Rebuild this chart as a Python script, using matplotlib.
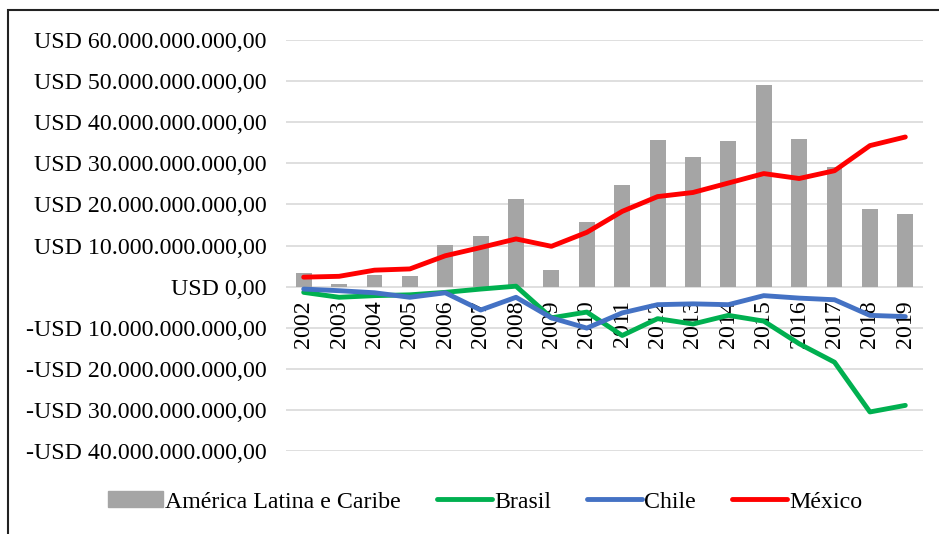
import matplotlib
matplotlib.use("Agg")
import matplotlib.pyplot as plt
from matplotlib.patches import Rectangle, Patch
from matplotlib.lines import Line2D
from matplotlib.ticker import FuncFormatter
import numpy as np

plt.rcParams["font.family"] = ["Liberation Serif", "DejaVu Serif"]

years = [str(y) for y in range(2002, 2020)]

# values in billions of USD
america_latina = [3.3, 0.6, 2.8, 2.7, 10.1, 12.2, 21.3, 4.0, 15.6, 24.6,
                  35.7, 31.6, 35.4, 49.0, 36.0, 29.1, 18.9, 17.7]
brasil = [-1.4, -2.6, -2.2, -2.0, -1.4, -0.6, 0.1, -7.6, -6.2, -11.9,
          -7.8, -9.1, -7.0, -8.4, -13.9, -18.4, -30.5, -28.9]
chile = [-0.6, -1.0, -1.5, -2.6, -1.5, -5.7, -2.6, -7.6, -10.1, -6.4,
         -4.4, -4.2, -4.4, -2.2, -2.8, -3.2, -7.0, -7.3]
mexico = [2.3, 2.5, 4.0, 4.3, 7.5, 9.5, 11.6, 9.8, 13.2, 18.3,
          21.9, 22.9, 25.2, 27.5, 26.3, 28.2, 34.3, 36.4]

FS = 17.2
LW = 3.5

fig = plt.figure(figsize=(9.39, 5.34), dpi=100)
ax = fig.add_axes([286 / 939, 1 - 451 / 534, 637 / 939, 411 / 534])

x = np.arange(len(years))
scale = 1e9
ax.bar(x, np.array(america_latina) * scale, width=0.45, color="#a5a5a5", zorder=2)
ax.plot(x, np.array(brasil) * scale, color="#00b050", lw=LW, zorder=4,
        solid_capstyle="round")
ax.plot(x, np.array(chile) * scale, color="#4472c4", lw=LW, zorder=4,
        solid_capstyle="round")
ax.plot(x, np.array(mexico) * scale, color="#ff0000", lw=LW, zorder=5,
        solid_capstyle="round")

ax.set_xlim(-0.5, len(years) - 0.5)
ax.set_ylim(-40e9, 60e9)
ax.set_yticks(np.arange(-40e9, 60e9 + 1, 10e9))


def usd(v, _):
    b = int(round(v / 1e9))
    if b == 0:
        return "USD 0,00"
    s = f"{abs(b) * 1000000000:,}".replace(",", ".") + ",00"
    return ("-" if b < 0 else "") + "USD " + s


ax.yaxis.set_major_formatter(FuncFormatter(usd))
ax.tick_params(axis="y", length=0, pad=14, labelsize=FS)
ax.set_xticks([])
ax.grid(axis="y", color="#d9d9d9", lw=1.2, zorder=0)
ax.set_axisbelow(True)
for s in ax.spines.values():
    s.set_visible(False)

# year labels hanging below the zero line
for i, yr in enumerate(years):
    ax.annotate(yr, (i, 0), xytext=(0, -10), textcoords="offset points",
                rotation=90, ha="center", va="top", fontsize=FS, zorder=3)

handles = [Patch(color="#a5a5a5"),
           Line2D([], [], color="#00b050", lw=LW, solid_capstyle="round"),
           Line2D([], [], color="#4472c4", lw=LW, solid_capstyle="round"),
           Line2D([], [], color="#ff0000", lw=LW, solid_capstyle="round")]
labels = ["América Latina e Caribe", "Brasil", "Chile", "México"]
fig.legend(handles, labels, loc="center", bbox_to_anchor=(485 / 939, 1 - 502 / 534),
           ncol=4, frameon=False, fontsize=FS, handlelength=2.3,
           handletextpad=0.1, columnspacing=1.5, handleheight=0.6)

# outer border (cut by the image edge on right and bottom)
fig.patches.append(Rectangle((8 / 939, -0.1), 1.2, 1 - 10 / 534 + 0.1,
                             transform=fig.transFigure, fill=False,
                             edgecolor="#222222", lw=1.5))

fig.savefig("out.png", dpi=100)
